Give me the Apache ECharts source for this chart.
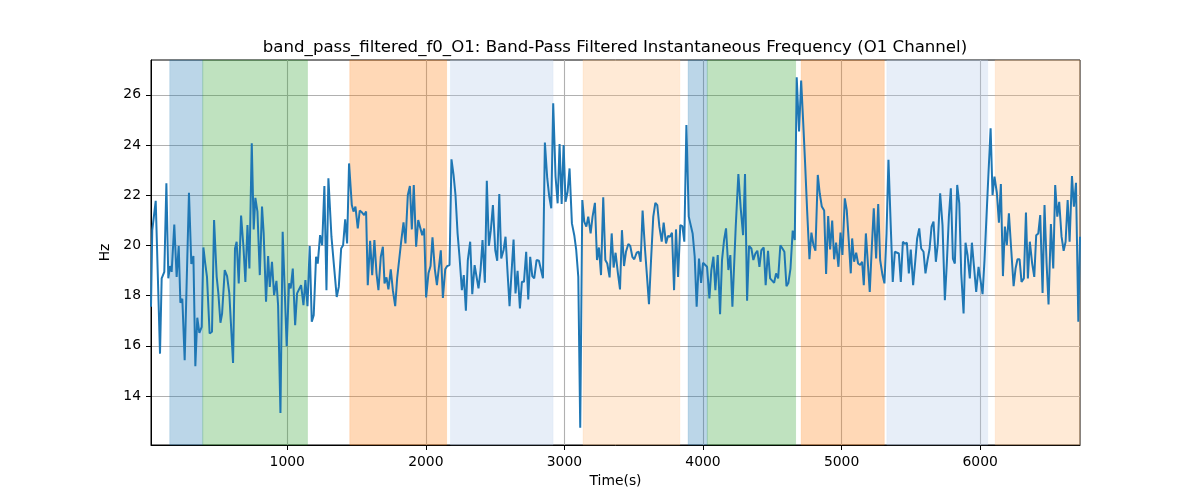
<!DOCTYPE html>
<html>
<head>
<meta charset="utf-8">
<script src="https://cdn.jsdelivr.net/npm/echarts@6/dist/echarts.min.js"></script>
<style>html,body{margin:0;padding:0;background:#fff}#c{width:1200px;height:500px}</style>
</head>
<body>
<div id="c"></div>
<script>
const titleText = 'band_pass_filtered_f0_O1: Band-Pass Filtered Instantaneous Frequency (O1 Channel)';
const xName = 'Time(s)';
const yName = 'Hz';
const xTicks = [1000, 2000, 3000, 4000, 5000, 6000];
const yTicks = [14, 16, 18, 20, 22, 24, 26];

const times = [17,26,51,82,94,113,128,142,154,166,185,202,217,229,243,260,291,308,323,337,351,366,383,395,408,421,440,457,472,491,503,518,530,549,566,582,594,609,623,635,650,667,684,698,713,727,744,758,770,785,802,818,830,847,
862,874,890,905,922,934,951,967,996,1013,1025,1040,1057,1071,1085,1100,1117,1131,1146,1162,1177,1191,1208,1220,1237,1252,1268,1283,1297,1319,1338,1357,1372,1389,1403,1418,1432,1446,1466,1478,1492,1509,1523,1540,1555,1569,1581,1598,1613,1629,1644,1658,1675,1690,
1702,1716,1730,1747,1762,1779,1793,1807,1822,1839,1853,1870,1885,1899,1913,1930,1945,1959,1974,1988,2002,2019,2034,2048,2065,2080,2094,2108,2123,2140,2154,2171,2185,2200,2214,2229,2243,2260,2274,2289,2303,2320,2335,2352,2366,2380,2395,2409,2426,2440,2455,2469,2484,2501,2515,2530,2544,
2561,2575,2590,2604,2618,2633,2647,2662,2679,2693,2708,2724,2739,2753,2768,2782,2799,2816,2830,2845,2859,2876,2890,2905,2919,2936,2951,2965,2980,2994,3008,3023,3037,3054,3071,3085,3100,3114,3129,3143,3158,3172,3189,3203,3220,3235,3249,3264,3280,3295,3309,3326,3341,3355,3369,
3386,3401,3415,3430,3444,3461,3475,3490,3504,3521,3536,3550,3564,3581,3596,3610,3625,3641,3656,3670,3685,3702,3716,3733,3747,3762,3776,3791,3805,3820,3836,3851,3865,3880,3897,3911,3925,3940,3954,3971,3986,4000,4014,4029,4046,4060,4075,4089,4106,4123,4137,4152,4166,4183,4197,4212,
4236,4255,4272,4289,4303,4318,4332,4349,4363,4378,4392,4407,4421,4438,4452,4469,4484,4498,4513,4527,4542,4558,4573,4587,4602,4616,4631,4647,4662,4676,4693,4708,4722,4736,4751,4768,4782,4797,4811,4828,4842,4857,4874,4888,4903,4917,4932,4946,4960,4977,4992,5006,5023,5037,5052,5066,
5076,5090,5105,5119,5134,5148,5160,5175,5191,5203,5218,5232,5249,5264,5278,5295,5309,5324,5338,5353,5369,5384,5398,5413,5427,5442,5456,5471,5485,5499,5516,5531,5545,5560,5574,5591,5605,5620,5634,5649,5663,5680,5694,5711,5728,5745,5759,5774,5788,5803,5817,5834,5849,5863,5880,5894,
5909,5925,5940,5954,5971,5988,6002,6017,6031,6043,6058,6075,6089,6103,6120,6135,6149,6164,6178,6192,6207,6224,6241,6255,6269,6284,6298,6315,6330,6344,6358,6375,6390,6404,6419,6433,6450,6464,6479,6493,6510,6527,6541,6556,6570,6587,6602,6616,6631,6645,6662,6676,6691,6708,6720];

const hz = [17.56,20.6,21.78,15.69,18.69,18.95,22.48,18.69,19.18,18.95,20.83,18.75,19.98,17.72,17.88,15.43,22.1,19.26,19.58,15.19,17.12,16.52,16.76,19.92,19.3,18.75,16.49,16.56,21.01,18.75,18.09,16.92,17.29,19.02,18.78,18.09,18.02,15.32,19.88,20.15,18.49,21.19,19.95,18.55,20.81,19.08,24.07,20.64,21.9,21.35,18.82,21.55,20.48,17.76,
19.58,18.35,19.35,18.02,18.59,17.62,13.33,20.55,15.99,18.49,18.29,19.08,16.82,18.09,18.11,18.42,17.62,18.62,17.58,19.98,16.96,17.22,19.55,19.28,20.41,20.01,22.37,18.22,22.68,20.35,19.15,17.95,18.35,19.88,20.01,21.04,20.08,23.27,21.61,21.35,21.55,20.68,21.39,21.31,21.21,21.35,18.42,20.19,18.82,20.22,18.89,18.22,19.55,19.95,
18.49,18.73,18.25,19.05,18.22,17.58,18.69,18.75,20.15,20.92,20.08,22.01,22.37,20.64,22.41,19.95,21.01,20.99,20.41,20.68,17.93,18.89,19.18,20.32,19.05,18.42,18.35,19.81,17.91,19.05,19.18,19.22,23.43,22.81,22.01,20.48,19.55,18.22,18.82,17.4,19.42,20.15,18.06,19.22,19.15,18.29,19.02,20.22,18.52,22.58,19.98,20.61,21.61,19.81,19.39,22.05,19.48,
19.82,20.35,18.89,17.58,18.89,20.24,18.09,18.99,17.49,18.55,18.55,19.75,17.85,19.55,18.78,18.69,19.42,19.39,19.35,18.69,24.1,22.68,21.97,21.48,25.67,22.74,21.68,24.04,21.65,24.0,21.74,22.14,23.07,20.88,20.41,19.82,18.75,12.74,21.81,20.95,20.75,21.15,20.48,21.15,21.7,19.42,19.92,18.82,21.92,19.42,19.28,18.73,20.48,19.12,19.71,
18.89,18.25,20.61,19.18,19.75,20.06,19.98,19.55,19.45,19.71,19.75,19.35,21.39,19.88,18.75,17.66,19.42,21.15,21.7,21.61,20.75,20.15,20.91,20.08,20.38,20.35,20.51,18.22,20.64,18.75,20.81,20.77,20.15,24.8,21.15,21.15,20.48,19.55,17.56,19.48,18.51,19.31,19.28,19.15,17.89,19.02,19.55,18.22,19.62,17.26,19.42,20.22,20.68,19.02,19.62,17.56,
20.75,22.85,21.48,20.41,22.85,17.8,19.98,19.88,19.42,19.68,19.79,19.15,19.81,19.92,18.42,19.79,18.69,18.65,18.51,18.89,18.69,20.01,19.88,19.75,18.38,18.51,19.08,20.59,20.22,26.7,24.54,26.57,25.0,23.34,21.41,19.45,20.51,20.01,19.79,22.81,22.08,21.55,21.39,18.86,21.17,19.84,20.99,19.45,20.11,19.15,20.51,19.62,21.88,21.41,20.15,18.89,
20.28,19.35,19.71,19.28,19.22,19.35,18.42,20.48,19.15,18.15,19.95,21.48,19.48,21.65,19.42,18.82,18.49,20.48,23.41,21.01,18.55,19.75,19.79,19.68,18.55,20.15,20.06,20.11,18.89,19.84,18.42,19.35,20.28,20.68,19.88,19.75,18.89,19.42,19.84,20.75,20.95,19.35,20.06,22.08,20.81,17.82,19.28,21.15,22.28,19.48,19.28,22.41,21.68,18.89,17.29,20.11,
19.6,18.69,20.11,20.15,18.15,19.15,19.15,18.06,19.42,19.45,22.68,24.67,22.01,22.74,22.1,20.91,22.45,18.78,20.75,20.01,21.28,19.82,18.38,19.08,19.45,19.45,18.55,18.69,21.31,18.69,20.15,19.28,18.75,20.41,20.48,21.21,18.11,21.61,19.28,17.65,20.85,19.08,22.41,21.15,21.74,20.35,19.79,20.15,21.81,20.15,22.77,21.55,22.5,16.96,20.35];

const regionStarts = [152, 390, 1451, 2178, 3134, 3892, 4031, 4708, 5326, 6108];
const regionEnds   = [390, 1146, 2150, 2918, 3833, 4031, 4668, 5308, 6054, 6720];
const regionKinds  = ['blue', 'green', 'orange', 'lightblue', 'lightorange', 'blue', 'green', 'orange', 'lightblue', 'lightorange'];

const kindColor = {
  blue: [31, 119, 180],
  green: [44, 160, 44],
  orange: [255, 127, 14],
  lightblue: [174, 199, 232],
  lightorange: [255, 187, 120]
};
const rgba = (c, a) => `rgba(${c[0]},${c[1]},${c[2]},${a})`;

const FONT = 'DejaVu Sans';
const xMin = times[0], xMax = times[times.length - 1];

const chart = echarts.init(document.getElementById('c'), null, { renderer: 'canvas' });
chart.setOption({
  animation: false,
  backgroundColor: '#ffffff',
  title: {
    text: titleText,
    left: 610,
    top: 34,
    textAlign: 'center',
    textStyle: { fontFamily: FONT, fontSize: 16.6, fontWeight: 'normal', color: '#000' }
  },
  grid: { left: 151, right: 120, top: 60, bottom: 55, show: true, borderColor: '#000', borderWidth: 1, backgroundColor: 'transparent' },
  xAxis: {
    type: 'value', min: xMin, max: xMax,
    name: xName, nameLocation: 'middle', nameGap: 29,
    nameTextStyle: { fontFamily: FONT, fontSize: 13.9, color: '#000' },
    axisLine: { show: true, lineStyle: { color: '#000', width: 1 } },
    axisTick: { show: true, length: 5, customValues: xTicks, lineStyle: { color: '#000', width: 1 } },
    axisLabel: { customValues: xTicks, formatter: v => String(v), margin: 10, fontFamily: FONT, fontSize: 13.9, color: '#000' },
    splitLine: { show: true, lineStyle: { color: '#b0b0b0', width: 1.1 } }
  },
  yAxis: {
    type: 'value', min: 12.05, max: 27.39,
    name: yName, nameLocation: 'middle', nameGap: 34, nameRotate: 90,
    nameTextStyle: { fontFamily: FONT, fontSize: 13.9, color: '#000' },
    axisLine: { show: true, lineStyle: { color: '#000', width: 1 } },
    axisTick: { show: true, length: 5, customValues: yTicks, lineStyle: { color: '#000', width: 1 } },
    axisLabel: { customValues: yTicks, formatter: v => String(v), margin: 10, fontFamily: FONT, fontSize: 13.9, color: '#000' },
    splitLine: { show: true, lineStyle: { color: '#b0b0b0', width: 1.1 } }
  },
  series: [{
    type: 'line',
    data: times.map((t, i) => [t, hz[i]]),
    showSymbol: false,
    symbol: 'none',
    lineStyle: { color: '#1f77b4', width: 2 },
    z: 3,
    markArea: {
      silent: true,
      data: regionStarts.map((s, i) => [
        { xAxis: s, itemStyle: { color: rgba(kindColor[regionKinds[i]], 0.3), borderColor: rgba(kindColor[regionKinds[i]], 0.15), borderWidth: 1 } },
        { xAxis: regionEnds[i] }
      ])
    }
  }]
});
</script>
</body>
</html>
